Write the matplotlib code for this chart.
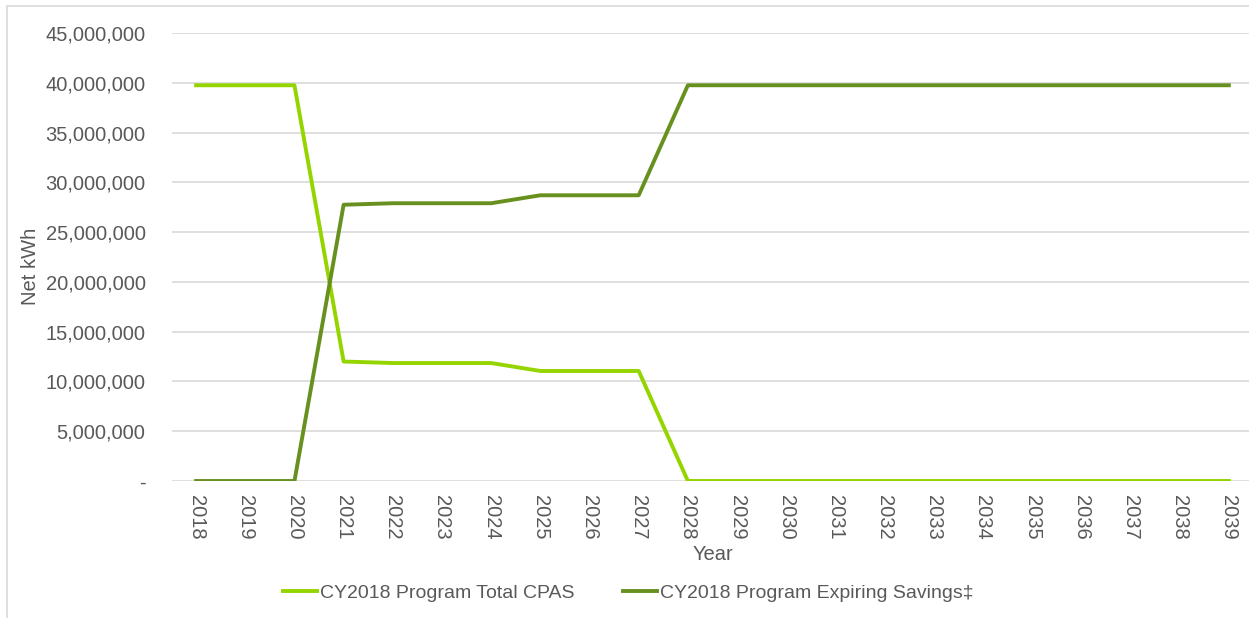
import matplotlib
matplotlib.use('Agg')
import matplotlib.pyplot as plt
from matplotlib.patches import Rectangle
from matplotlib.ticker import FuncFormatter

plt.rcParams['font.family'] = ['Liberation Sans Narrow', 'Liberation Sans', 'DejaVu Sans']

years = [str(y) for y in range(2018, 2040)]
total_cpas = [39750000, 39750000, 39750000, 12000000, 11850000, 11850000, 11850000,
              11050000, 11050000, 11050000] + [0] * 12
expiring = [0, 0, 0, 27750000, 27900000, 27900000, 27900000,
            28700000, 28700000, 28700000] + [39750000] * 12
labels = ['CY2018 Program Total CPAS', 'CY2018 Program Expiring Savings\u2021']
colors = ['#94d500', '#67901f']

txt = '#595959'
fig = plt.figure(figsize=(12.49, 6.18), dpi=100)
ax = fig.add_axes([172/1249, 1-481/618, (1249-172)/1249, (481-33)/618])

x = range(len(years))
ax.plot(x, total_cpas, color=colors[0], lw=2.8, label=labels[0])
ax.plot(x, expiring, color=colors[1], lw=2.8, label=labels[1])

ax.set_xlim(-0.49, 21.41)
ax.set_ylim(0, 45000000)
ax.set_yticks(range(0, 45000001, 5000000))
ax.yaxis.set_major_formatter(FuncFormatter(lambda v, p: '-' if v == 0 else f'{int(v):,}'))
ax.set_xticks(list(x))
ax.set_xticklabels(years, rotation=270)
ax.tick_params(length=0, labelsize=14.5, colors=txt)
ax.tick_params(axis='y', pad=19)
ax.tick_params(axis='x', pad=10)
ax.grid(axis='y', color='#d9d9d9', lw=1.2)
ax.set_axisbelow(True)
for s in ax.spines.values():
    s.set_visible(False)

ax.set_ylabel('Net kWh', fontsize=14.5, color=txt)
ax.yaxis.set_label_coords(-(172-40)/1077, 0.48)
fig.text(713/1249, 1-555/618, 'Year', ha='center', va='center', fontsize=14.5, color=txt)

leg = fig.legend(loc='center', bbox_to_anchor=(628/1249, 1-593/618), ncol=2, frameon=False,
                 fontsize=14, handlelength=1.75, handletextpad=0.15, columnspacing=2.5)
for t in leg.get_texts():
    t.set_color(txt)

fig.patches.append(Rectangle((7/1249, -0.1), 1.2, 1.1-6/618, transform=fig.transFigure,
                             fill=False, edgecolor='#d9d9d9', lw=1.2))

fig.savefig('out.png', dpi=100)
